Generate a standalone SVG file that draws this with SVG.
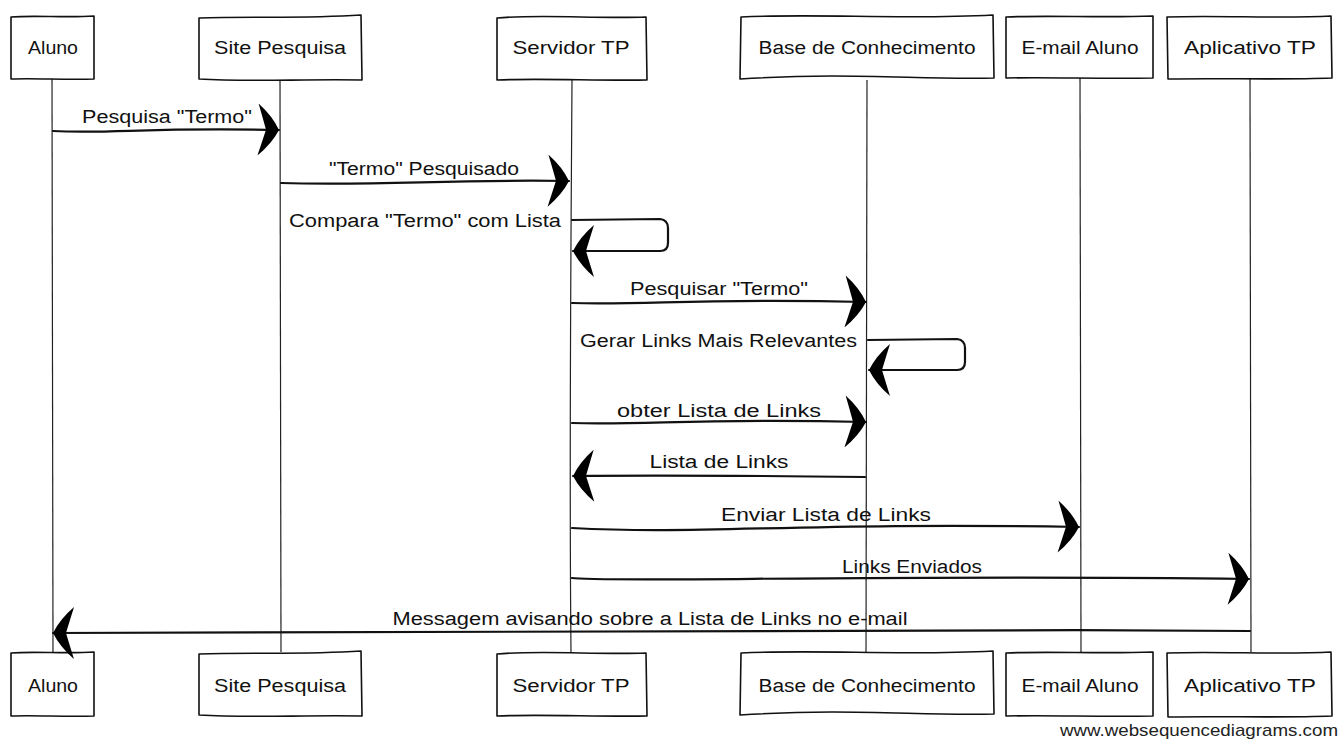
<svg xmlns="http://www.w3.org/2000/svg" width="1342" height="740" viewBox="0 0 1342 740">
<style>
.box{fill:#fff;stroke:#111;stroke-width:1.6;stroke-linejoin:round}
.life{fill:none;stroke:#222;stroke-width:1.2}
.msg{fill:none;stroke:#111;stroke-width:2.2;stroke-linecap:round;stroke-linejoin:round;marker-end:url(#ah)}
text{font-family:"Liberation Sans",Arial,sans-serif;font-size:18px;fill:#111}
.c{text-anchor:middle}
.e{text-anchor:end}
.wm{font-size:17px;fill:#222;text-anchor:end}
</style>
<defs>
<marker id="ah" markerUnits="userSpaceOnUse" markerWidth="24" markerHeight="52" viewBox="0 0 24 52" refX="22" refY="26" orient="auto">
<path d="M22,26 Q15,12 1,0 Q6,16 9,26 Q6,36 1,52 Q15,40 22,26 Z" fill="#000"/>
</marker>
</defs>
<rect width="1342" height="740" fill="#fff"/>
<g id="aluno">
<path class="life" d="M52,79 L53,652"/>
<path class="box" d="M11,17 C35,15 65,18 94,16 L94,79 C65,80 35,78 11,79 Z"/>
<text class="c" x="53" y="54" textLength="50" lengthAdjust="spacingAndGlyphs">Aluno</text>
<path class="box" d="M11,653 C35,651 65,654 94,652 L94,716 C65,717 35,715 11,716 Z"/>
<text class="c" x="53" y="692" textLength="50" lengthAdjust="spacingAndGlyphs">Aluno</text>
</g>
<g id="site-pesquisa">
<path class="life" d="M280,80 L281,652"/>
<path class="box" d="M199,18 C250,16 300,19 361,15 L362,80 C300,79 250,82 199,79 Z"/>
<text class="c" x="280" y="54" textLength="132" lengthAdjust="spacingAndGlyphs">Site Pesquisa</text>
<path class="box" d="M199,654 C250,652 300,655 361,651 L362,716 C300,715 250,718 199,715 Z"/>
<text class="c" x="280" y="692" textLength="132" lengthAdjust="spacingAndGlyphs">Site Pesquisa</text>
</g>
<g id="servidor-tp">
<path class="life" d="M572,80 C571,250 569,450 571,652"/>
<path class="box" d="M497,18 C540,14 600,19 646,17 L647,80 C600,81 540,78 497,80 Z"/>
<text class="c" x="571" y="54" textLength="117" lengthAdjust="spacingAndGlyphs">Servidor TP</text>
<path class="box" d="M497,654 C540,650 600,655 646,653 L647,716 C600,717 540,714 497,716 Z"/>
<text class="c" x="571" y="692" textLength="117" lengthAdjust="spacingAndGlyphs">Servidor TP</text>
</g>
<g id="base-conhecimento">
<path class="life" d="M867,80 L866,652"/>
<path class="box" d="M741,17 C820,13 900,20 993,15 L994,78 C920,80 850,72 740,79 Z"/>
<text class="c" x="867" y="54" textLength="217" lengthAdjust="spacingAndGlyphs">Base de Conhecimento</text>
<path class="box" d="M741,653 C820,649 900,656 993,651 L994,714 C920,716 850,708 740,715 Z"/>
<text class="c" x="867" y="692" textLength="217" lengthAdjust="spacingAndGlyphs">Base de Conhecimento</text>
</g>
<g id="email-aluno">
<path class="life" d="M1080,78 L1081,652"/>
<path class="box" d="M1006,17 C1050,15 1100,18 1153,16 L1153,78 C1100,79 1050,77 1006,78 Z"/>
<text class="c" x="1080" y="54" textLength="117" lengthAdjust="spacingAndGlyphs">E-mail Aluno</text>
<path class="box" d="M1006,653 C1050,651 1100,654 1153,652 L1153,716 C1100,717 1050,715 1006,716 Z"/>
<text class="c" x="1080" y="692" textLength="117" lengthAdjust="spacingAndGlyphs">E-mail Aluno</text>
</g>
<g id="aplicativo-tp">
<path class="life" d="M1250,79 L1251,652"/>
<path class="box" d="M1167,17 C1220,15 1280,19 1331,16 L1332,78 C1280,80 1220,78 1168,79 Z"/>
<text class="c" x="1250" y="54" textLength="132" lengthAdjust="spacingAndGlyphs">Aplicativo TP</text>
<path class="box" d="M1167,653 C1220,651 1280,655 1331,652 L1332,716 C1280,718 1220,716 1168,717 Z"/>
<text class="c" x="1250" y="692" textLength="132" lengthAdjust="spacingAndGlyphs">Aplicativo TP</text>
</g>
<g id="connectors">
<path class="msg" d="M53,131 C110,134 150,127 279,130"/>
<text class="c" x="167" y="123" textLength="170" lengthAdjust="spacingAndGlyphs">Pesquisa "Termo"</text>
<path class="msg" d="M281,183 C380,186 450,179 569,181"/>
<text class="c" x="424" y="175" textLength="190" lengthAdjust="spacingAndGlyphs">"Termo" Pesquisado</text>
<path class="msg" d="M572,220 L660,219 Q668,220 668,228 L668,243 Q668,251 660,251 L573,251"/>
<text class="e" x="561" y="227" textLength="272" lengthAdjust="spacingAndGlyphs">Compara "Termo" com Lista</text>
<path class="msg" d="M572,303 C650,305 700,298 866,302"/>
<text class="c" x="719" y="295" textLength="178" lengthAdjust="spacingAndGlyphs">Pesquisar "Termo"</text>
<path class="msg" d="M868,340 L957,339 Q965,340 965,348 L965,362 Q965,370 957,370 L869,370"/>
<text class="e" x="857" y="347" textLength="277" lengthAdjust="spacingAndGlyphs">Gerar Links Mais Relevantes</text>
<path class="msg" d="M572,423 C650,425 700,418 866,422"/>
<text class="c" x="719" y="417" textLength="204" lengthAdjust="spacingAndGlyphs">obter Lista de Links</text>
<path class="msg" d="M865,477 C780,476 650,475 573,476"/>
<text class="c" x="719" y="468" textLength="139" lengthAdjust="spacingAndGlyphs">Lista de Links</text>
<path class="msg" d="M572,528 C700,535 800,522 1079,527"/>
<text class="c" x="826" y="521" textLength="210" lengthAdjust="spacingAndGlyphs">Enviar Lista de Links</text>
<path class="msg" d="M572,578 C600,583 900,574 1249,579"/>
<text class="c" x="912" y="573" textLength="140" lengthAdjust="spacingAndGlyphs">Links Enviados</text>
<path class="msg" d="M1250,631 C900,628 600,634 53,633"/>
<text class="c" x="650" y="625" textLength="515" lengthAdjust="spacingAndGlyphs">Messagem avisando sobre a Lista de Links no e-mail</text>
</g>
<text class="wm" x="1338" y="736" textLength="278" lengthAdjust="spacingAndGlyphs">www.websequencediagrams.com</text>
</svg>
